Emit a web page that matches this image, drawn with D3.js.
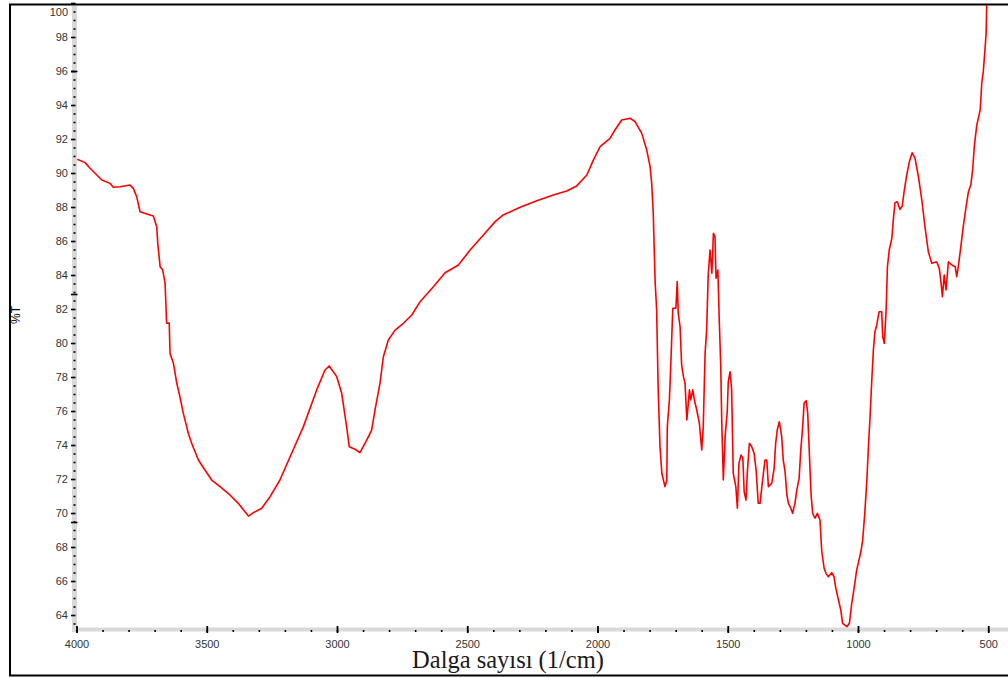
<!DOCTYPE html>
<html>
<head>
<meta charset="utf-8">
<script src="https://cdn.jsdelivr.net/npm/d3@7/dist/d3.min.js"></script>
<style>
  html, body { margin: 0; padding: 0; background: #ffffff; }
  svg { display: block; }
</style>
</head>
<body>
<script>
// FT-IR spectrum: wavenumber (1/cm) against transmittance (%T)
const wavenumber = [
  3997, 3967, 3948, 3922, 3903, 3871, 3859, 3833, 3795, 3782,
  3769, 3756, 3730, 3705, 3692, 3688, 3679, 3669, 3660, 3654,
  3644, 3641, 3628, 3615, 3603, 3590, 3577, 3571, 3558, 3532,
  3507, 3481, 3449, 3411, 3379, 3340, 3321, 3289, 3257, 3219,
  3180, 3129, 3078, 3046, 3030, 3001, 2982, 2963, 2953, 2931,
  2912, 2886, 2867, 2854, 2835, 2822, 2803, 2777, 2745, 2713,
  2681, 2630, 2585, 2534, 2489, 2438, 2393, 2362, 2297, 2233,
  2170, 2118, 2080, 2041, 2016, 1990, 1952, 1933, 1907, 1875,
  1856, 1830, 1811, 1798, 1792, 1786, 1779, 1773, 1767, 1760,
  1753, 1747, 1741, 1734, 1732, 1724, 1718, 1711, 1699, 1694,
  1690, 1683, 1677, 1670, 1664, 1657, 1647, 1642, 1634, 1628,
  1619, 1609, 1600, 1594, 1587, 1581, 1575, 1568, 1561, 1555,
  1549, 1545, 1538, 1533, 1527, 1523, 1517, 1510, 1502, 1498,
  1491, 1485, 1479, 1469, 1463, 1457, 1449, 1442, 1437, 1430,
  1425, 1417, 1408, 1399, 1391, 1383, 1376, 1369, 1363, 1357,
  1350, 1344, 1331, 1322, 1316, 1310, 1302, 1293, 1287, 1280,
  1273, 1267, 1258, 1251, 1242, 1235, 1226, 1220, 1212, 1207,
  1199, 1193, 1187, 1180, 1174, 1165, 1156, 1146, 1139, 1130,
  1123, 1114, 1101, 1092, 1085, 1075, 1066, 1059, 1043, 1033,
  1024, 1015, 1005, 996, 989, 982, 974, 966, 959, 954,
  947, 941, 935, 928, 919, 909, 905, 899, 892, 887,
  880, 870, 864, 858, 849, 839, 830, 823, 813, 803,
  792, 781, 768, 755, 743, 730, 717, 698, 688, 681,
  676, 669, 662, 653, 640, 627, 621, 615, 606, 596,
  585, 576, 567, 560, 553, 544, 531, 525, 519, 508,
  506, 500
];

const transmittance = [
  90.81, 90.61, 90.28, 89.88, 89.59, 89.39, 89.16, 89.19, 89.29, 89.10,
  88.61, 87.72, 87.59, 87.47, 86.84, 85.86, 84.49, 84.29, 83.51, 81.16,
  81.18, 79.39, 78.81, 77.63, 76.84, 75.86, 75.08, 74.69, 74.10, 73.12,
  72.53, 71.94, 71.55, 71.06, 70.57, 69.82, 70.02, 70.28, 70.96, 71.94,
  73.31, 75.08, 77.24, 78.41, 78.65, 78.02, 77.04, 75.08, 73.90, 73.75,
  73.55, 74.29, 74.88, 76.06, 77.63, 79.19, 80.18, 80.76, 81.16, 81.65,
  82.43, 83.31, 84.13, 84.59, 85.47, 86.35, 87.14, 87.53, 87.98, 88.37,
  88.71, 88.94, 89.24, 89.88, 90.76, 91.55, 92.04, 92.53, 93.12, 93.22,
  93.02, 92.33, 91.35, 90.37, 89.39, 87.63, 83.71, 81.94, 77.24, 73.90,
  72.34, 71.94, 71.55, 71.94, 75.08, 76.65, 79.00, 82.04, 82.04, 83.61,
  81.75, 80.96, 78.71, 78.02, 77.63, 75.47, 77.24, 76.65, 77.24, 76.65,
  76.06, 75.28, 73.71, 75.08, 79.39, 80.76, 84.00, 85.47, 84.10, 86.45,
  86.25, 83.81, 84.29, 81.55, 78.71, 75.37, 71.94, 74.49, 75.96, 77.72,
  78.31, 77.24, 72.34, 71.55, 70.28, 72.92, 73.41, 73.22, 71.25, 70.76,
  72.34, 74.10, 73.90, 73.51, 72.53, 70.57, 70.57, 71.55, 72.34, 73.12,
  73.12, 71.55, 71.75, 72.63, 74.10, 74.88, 75.37, 74.49, 73.12, 72.43,
  71.06, 70.57, 70.28, 69.98, 70.57, 71.35, 72.04, 73.61, 75.18, 76.45,
  76.61, 75.86, 73.61, 71.06, 69.98, 69.69, 69.98, 69.59, 67.72, 66.75,
  66.45, 66.25, 66.49, 66.25, 65.57, 64.88, 64.29, 63.51, 63.31, 63.51,
  64.69, 65.57, 66.65, 67.24, 67.72, 68.41, 69.98, 71.94, 74.19, 75.57,
  77.82, 79.59, 80.66, 81.06, 81.84, 81.84, 80.37, 79.98, 81.94, 84.49,
  85.47, 86.16, 87.33, 88.25, 88.31, 87.86, 88.06, 88.90, 89.88, 90.66,
  91.19, 90.86, 89.78, 88.41, 86.84, 85.37, 84.69, 84.78, 84.39, 83.51,
  82.72, 84.00, 83.12, 84.78, 84.59, 84.49, 83.90, 84.49, 85.57, 86.84,
  88.02, 88.90, 89.29, 90.18, 91.65, 92.82, 93.71, 95.28, 95.96, 98.22,
  99.88, 101.5
];

// Axis ticks
const xLabelTicks = [4000, 3500, 3000, 2500, 2000, 1500, 1000, 500];
const xMinorTicks = d3.range(4000, 399, -100);
const yLabelTicks = [64, 66, 68, 70, 72, 74, 76, 78, 80, 82, 84, 86, 88, 90, 92, 94, 96, 98, 100];
const yMinorTicks = d3.range(63.5, 100.01, 0.5);
const yLongTicks = [96, 82.9, 69.5];

const xTitle = "Dalga sayısı (1/cm)";
const yTitle = "%T";

const W = 1008, H = 678;
const svg = d3.select("body").append("svg")
  .attr("width", W).attr("height", H);

const x = d3.scaleLinear().domain([4000, 400]).range([76.5, 1014.3]);
const y = d3.scaleLinear().domain([64, 100]).range([615, 3]);

const plot = { left: 75, top: 5, right: W, bottom: 630 };

// outer frame
svg.append("rect")
  .attr("x", 10).attr("y", 4.5)
  .attr("width", 1020).attr("height", 671)
  .attr("fill", "none")
  .attr("stroke", "#000").attr("stroke-width", 2);

// grey axis bands
svg.append("line")
  .attr("x1", 74.5).attr("x2", 74.5)
  .attr("y1", 6).attr("y2", 632)
  .attr("stroke", "#d9d9d9").attr("stroke-width", 5);
svg.append("line")
  .attr("x1", 72).attr("x2", W)
  .attr("y1", 629.5).attr("y2", 629.5)
  .attr("stroke", "#d9d9d9").attr("stroke-width", 4);

const labelFont = "'Liberation Sans', Arial, sans-serif";

// x axis: minor dots
const xMinor = svg.append("g")
  .attr("transform", "translate(0,630)")
  .call(d3.axisBottom(x).tickValues(xMinorTicks).tickSize(2).tickFormat(""));
xMinor.select(".domain").remove();
xMinor.selectAll(".tick line").attr("stroke", "#000").attr("stroke-width", 1.6);

// x axis: labelled ticks
const xMajor = svg.append("g")
  .attr("transform", "translate(0,626)")
  .call(d3.axisBottom(x).tickValues(xLabelTicks).tickSize(7).tickPadding(7).tickFormat(d3.format("d")));
xMajor.select(".domain").remove();
xMajor.selectAll(".tick line").attr("stroke", "#000").attr("stroke-width", 1.8);
xMajor.selectAll(".tick text")
  .attr("font-family", labelFont).attr("font-size", 11).attr("fill", "#333");

// y axis: minor dots
const yMinor = svg.append("g")
  .attr("transform", "translate(75.5,0)")
  .call(d3.axisLeft(y).tickValues(yMinorTicks).tickSize(2).tickFormat(""));
yMinor.select(".domain").remove();
yMinor.selectAll(".tick line").attr("stroke", "#000").attr("stroke-width", 1.6);

// y axis: labelled ticks
const yMajor = svg.append("g")
  .attr("transform", "translate(74,0)")
  .call(d3.axisLeft(y).tickValues(yLabelTicks).tickSize(3).tickPadding(3).tickFormat(d3.format("d")));
yMajor.select(".domain").remove();
yMajor.selectAll(".tick line").attr("stroke", "#000").attr("stroke-width", 1.6);
yMajor.selectAll(".tick text")
  .attr("font-family", labelFont).attr("font-size", 11).attr("fill", "#333");
// keep the top label clear of the frame
yMajor.selectAll(".tick").filter(d => d === 100).select("text").attr("y", 9);

// longer marks on the y axis
svg.append("g").selectAll("line")
  .data(yLongTicks)
  .join("line")
  .attr("x1", 71).attr("x2", 77.5)
  .attr("y1", d => Math.round(y(d)) + 0.5).attr("y2", d => Math.round(y(d)) + 0.5)
  .attr("stroke", "#000").attr("stroke-width", 1.6);

// spectrum line
svg.append("clipPath").attr("id", "plot-clip")
  .append("rect")
  .attr("x", plot.left).attr("y", plot.top)
  .attr("width", plot.right - plot.left).attr("height", plot.bottom - plot.top);

const points = wavenumber.map((w, i) => [w, transmittance[i]]);
const line = d3.line()
  .x(d => x(d[0]))
  .y(d => y(d[1]))
  .curve(d3.curveLinear);

svg.append("path")
  .datum(points)
  .attr("clip-path", "url(#plot-clip)")
  .attr("d", line)
  .attr("fill", "none")
  .attr("stroke", "#ff0000")
  .attr("stroke-width", 1.6)
  .attr("stroke-linejoin", "round");

// titles
svg.append("text")
  .attr("x", 508).attr("y", 668)
  .attr("text-anchor", "middle")
  .attr("font-family", "'Liberation Serif', 'Times New Roman', serif")
  .attr("font-size", 24.5)
  .attr("fill", "#1a1a1a")
  .text(xTitle);

svg.append("text")
  .attr("transform", "translate(20,315) rotate(-90)")
  .attr("text-anchor", "middle")
  .attr("font-family", labelFont)
  .attr("font-size", 12)
  .attr("fill", "#000")
  .text(yTitle);
</script>
</body>
</html>
